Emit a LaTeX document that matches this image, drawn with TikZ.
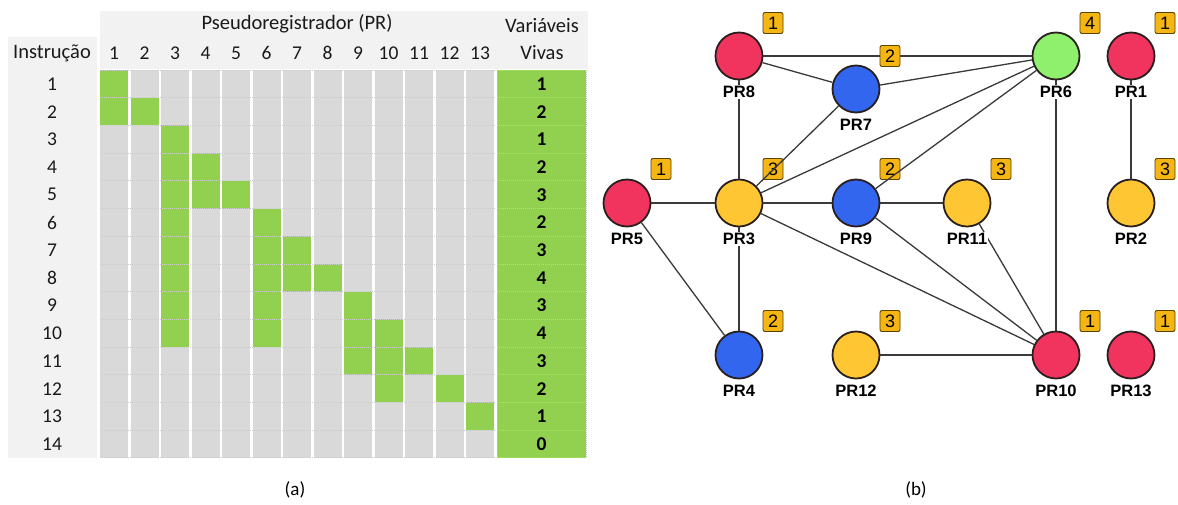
\documentclass[tikz,border=0pt]{standalone}
\usepackage{fontspec}
\setmainfont{Carlito}
\newfontfamily\arialf{Liberation Sans}
\usetikzlibrary{backgrounds}
\definecolor{cgreen}{HTML}{92D050}
\definecolor{cgray}{HTML}{D9D9D9}
\definecolor{chead}{HTML}{F2F2F2}
\definecolor{ctext}{HTML}{1A1A1A}
\definecolor{nred}{HTML}{F0345E}
\definecolor{nblue}{HTML}{3366EE}
\definecolor{nyel}{HTML}{FFC634}
\definecolor{ngrn}{HTML}{8EF06C}
\definecolor{nbord}{HTML}{2A1F1F}
\definecolor{bfill}{HTML}{F5B512}
\definecolor{bbord}{HTML}{5A4300}
\definecolor{edgec}{HTML}{3A3A3A}
\tikzset{
  tabtxt/.style={font=\fontsize{20.5}{22}\selectfont, text=ctext, inner sep=0pt},
  numtxt/.style={font=\fontsize{19.5}{22}\selectfont, text=ctext, inner sep=0pt},
  vivtxt/.style={font=\fontsize{19.5}{22}\selectfont\bfseries, text=black, inner sep=0pt},
  reg/.style={circle, draw=nbord, line width=1.8pt, minimum size=47pt, inner sep=0pt},
  lab/.style={font=\arialf\bfseries\fontsize{16.5}{17}\selectfont, fill=white, inner sep=1.2pt, text=black},
  badge/.style={draw=bbord, fill=bfill, line width=0.9pt, rounded corners=2pt, minimum width=20pt, minimum height=21pt, inner sep=0pt, font=\arialf\fontsize{18}{18}\selectfont},
  edge/.style={draw=edgec, line width=1.3pt},
  capt/.style={font=\fontsize{19}{20}\selectfont, inner sep=0pt}
}
\begin{document}
\begin{tikzpicture}[x=1pt,y=-1pt]
\useasboundingbox[fill=white] (0,0) rectangle (1178,504);
% ---------- table (a) ----------
\fill[chead] (100,11) rectangle (588,69);
\fill[chead] (8,37) rectangle (97,458);
\node[tabtxt] (hpr) at (297,24) {Pseudoregistrador (PR)};
\node[tabtxt] (hv1) at (542,26) {Variáveis};
\node[tabtxt] (hv2) at (542,53) {Vivas};
\node[tabtxt] (hin) at (52,53) {Instrução};
\foreach \c in {1,...,13}{
  \pgfmathsetmacro{\xl}{100+(\c-1)*30.5}
  \node[numtxt] (col\c) at ({\xl+14},53) {\c};
  \foreach \r in {1,...,14}{
    \pgfmathsetmacro{\yt}{70+(\r-1)*27.7}
    \fill[cgray] (\xl,\yt) rectangle ({\xl+28},{\yt+27.7});
  }
}
\foreach \r/\c in {1/1,2/1,2/2,3/3,4/3,4/4,5/3,5/4,5/5,6/3,6/6,7/3,7/6,7/7,8/3,8/6,8/7,8/8,9/3,9/6,9/9,10/3,10/6,10/9,10/10,11/9,11/10,11/11,12/10,12/12,13/13}{
  \pgfmathsetmacro{\xl}{100+(\c-1)*30.5}
  \pgfmathsetmacro{\yt}{70+(\r-1)*27.7}
  \fill[cgreen] (\xl,\yt) rectangle ({\xl+28},{\yt+27.7});
}
\foreach \r/\v in {1/1,2/2,3/1,4/2,5/3,6/2,7/3,8/4,9/3,10/4,11/3,12/2,13/1,14/0}{
  \pgfmathsetmacro{\yt}{70+(\r-1)*27.7}
  \fill[cgreen] (497,\yt) rectangle (586,{\yt+27.7});
  \node[numtxt] (row\r) at (52,{\yt+14}) {\r};
  \node[vivtxt] (viv\r) at (541.5,{\yt+14}) {\v};
}
\foreach \r in {0,...,14}{
  \pgfmathsetmacro{\yt}{70+\r*27.7}
  \draw[white!60!gray, line width=0.8pt, dash pattern=on 1pt off 1pt] (100,\yt) -- (495,\yt);
  \draw[white!55!gray, line width=0.8pt, dash pattern=on 1pt off 1pt] (497,\yt) -- (586,\yt);
}
\draw[white!55!gray, line width=0.8pt, dash pattern=on 1pt off 1pt] (497,70) -- (497,457.8) (586,70) -- (586,457.8);
\node[capt] (capa) at (295,490) {(a)};
% ---------- graph (b) ----------
\node[reg, fill=nred]  (p8)  at (739,56)  {};
\node[reg, fill=nblue] (p7)  at (856,89)  {};
\node[reg, fill=ngrn]  (p6)  at (1056,56) {};
\node[reg, fill=nred]  (p1)  at (1131,56) {};
\node[reg, fill=nred]  (p5)  at (627,203) {};
\node[reg, fill=nyel]  (p3)  at (739,203) {};
\node[reg, fill=nblue] (p9)  at (856,203) {};
\node[reg, fill=nyel]  (p11) at (967,203) {};
\node[reg, fill=nyel]  (p2)  at (1131,203) {};
\node[reg, fill=nblue] (p4)  at (739,355) {};
\node[reg, fill=nyel]  (p12) at (856,355) {};
\node[reg, fill=nred]  (p10) at (1056,355) {};
\node[reg, fill=nred]  (p13) at (1131,355) {};
\draw[edge] (p8) -- (p6);
\node[badge] (b8)  at (773,23)  {1};
\node[badge] (b7)  at (890,56)  {2};
\node[badge] (b6)  at (1090,23) {4};
\node[badge] (b1)  at (1165,23) {1};
\node[badge] (b5)  at (661,169) {1};
\node[badge] (b3)  at (773,169) {3};
\node[badge] (b9)  at (890,169) {2};
\node[badge] (b11) at (1001,169) {3};
\node[badge] (b2)  at (1165,169) {3};
\node[badge] (b4)  at (773,321) {2};
\node[badge] (b12) at (890,321) {3};
\node[badge] (b10) at (1090,321) {1};
\node[badge] (b13) at (1165,321) {1};
\draw[edge] (p8) -- (p7);
\draw[edge] (p8) -- (p3);
\draw[edge] (p7) -- (p6);
\draw[edge] (p7) -- (p3);
\draw[edge] (p6) -- (p3);
\draw[edge] (p6) -- (p9);
\draw[edge] (p6) -- (p10);
\draw[edge] (p1) -- (p2);
\draw[edge] (p5) -- (p3);
\draw[edge] (p3) -- (p9);
\draw[edge] (p9) -- (p11);
\draw[edge] (p5) -- (p4);
\draw[edge] (p3) -- (p4);
\draw[edge] (p3) -- (p10);
\draw[edge] (p9) -- (p10);
\draw[edge] (p11) -- (p10);
\draw[edge] (p12) -- (p10);
\node[lab] (l8)  at (739,92)  {PR8};
\node[lab] (l7)  at (856,125) {PR7};
\node[lab] (l6)  at (1056,92) {PR6};
\node[lab] (l1)  at (1131,92) {PR1};
\node[lab] (l5)  at (627,239) {PR5};
\node[lab] (l3)  at (739,239) {PR3};
\node[lab] (l9)  at (856,239) {PR9};
\node[lab] (l11) at (967,239) {PR11};
\node[lab] (l2)  at (1131,239) {PR2};
\node[lab] (l4)  at (739,391) {PR4};
\node[lab] (l12) at (856,391) {PR12};
\node[lab] (l10) at (1056,391) {PR10};
\node[lab] (l13) at (1131,391) {PR13};
\node[capt] (capb) at (916,490) {(b)};
\end{tikzpicture}
\end{document}
